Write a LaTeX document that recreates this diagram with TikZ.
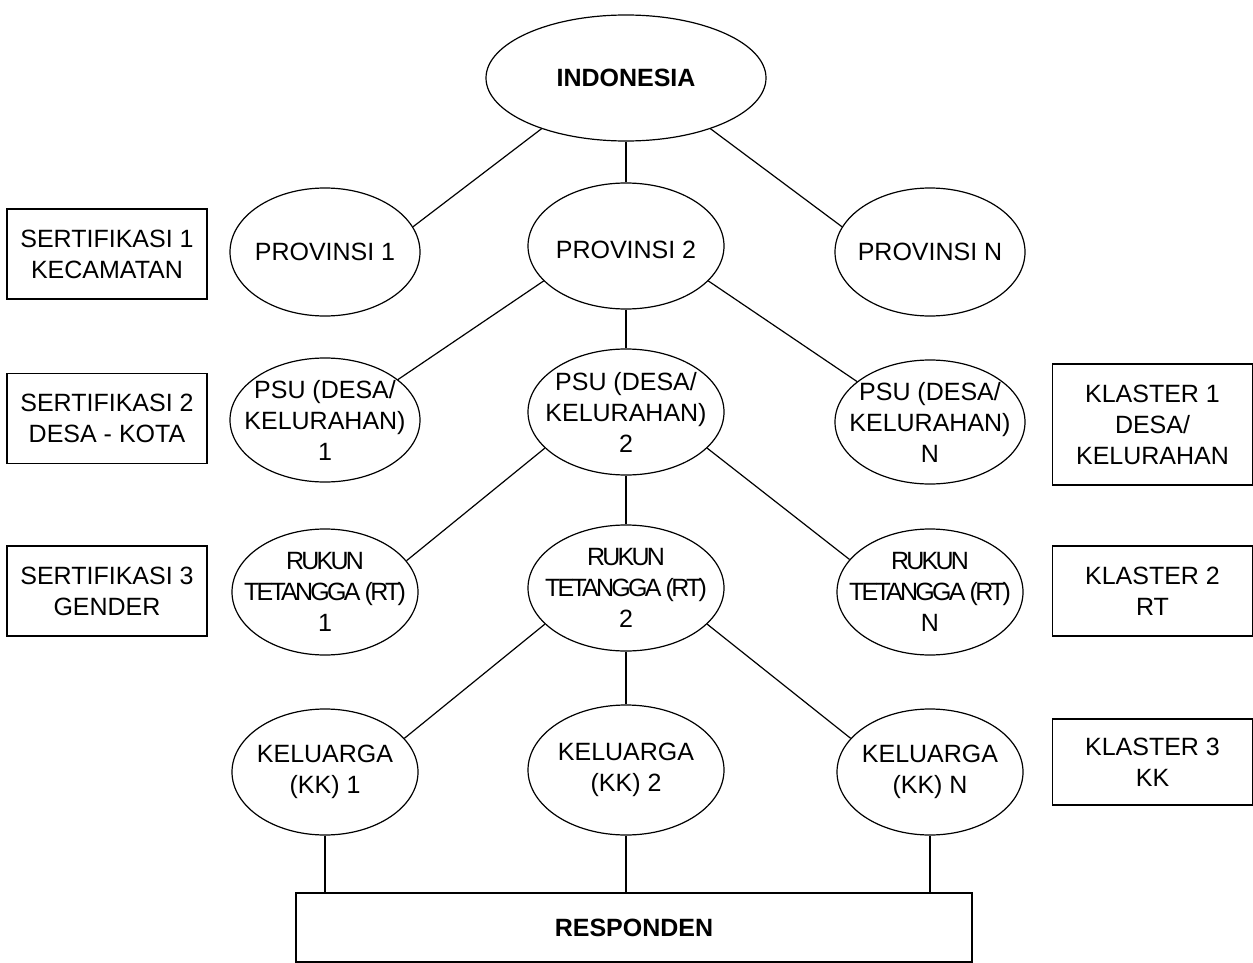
\documentclass[tikz,border=0pt]{standalone}
\usepackage{fontspec}
\setmainfont{Liberation Sans}
\usetikzlibrary{shapes.geometric}
\newcommand{\diagfont}{\fontsize{12.5}{15.5}\selectfont}
\newcommand{\tight}{\addfontfeature{LetterSpace=-11}}

\begin{document}
\begin{tikzpicture}[x=0.5pt,y=-0.5pt,line width=0.6pt,font=\diagfont,
  oval/.style={ellipse,draw,minimum width=95pt,minimum height=64pt,inner sep=0pt},
  sidebox/.style={rectangle,draw,minimum width=100pt,minimum height=45pt,align=center,inner sep=0pt},
  every label/.style={align=center,inner sep=0pt,font=\diagfont}]
\useasboundingbox (0,0) rectangle (1253,963);
\node[oval,minimum width=140pt,minimum height=63pt,font=\diagfont\bfseries] (indo) at (626,78) {INDONESIA};
\node[oval,label={center:PROVINSI 1}] (prov1) at (325,252) {};
\node[oval,minimum width=98pt,minimum height=63pt,label={[yshift=-2pt]center:PROVINSI 2}] (prov2) at (626,246) {};
\node[oval,label={center:PROVINSI N}] (provn) at (930,252) {};
\node[oval,minimum height=62pt,label={center:PSU (DESA/\\KELURAHAN)\\1}] (psu1) at (325,420) {};
\node[oval,minimum width=98pt,minimum height=63pt,label={center:PSU (DESA/\\KELURAHAN)\\2}] (psu2) at (626,412) {};
\node[oval,minimum height=62pt,label={center:PSU (DESA/\\KELURAHAN)\\N}] (psun) at (930,422) {};
\node[oval,minimum width=93pt,minimum height=63pt,label={center:{\tight RUKUN}\\{\tight TETANGGA (RT)}\\1}] (rt1) at (325,592) {};
\node[oval,minimum width=98pt,minimum height=63pt,label={center:{\tight RUKUN}\\{\tight TETANGGA (RT)}\\2}] (rt2) at (626,588) {};
\node[oval,minimum width=93pt,minimum height=63pt,label={center:{\tight RUKUN}\\{\tight TETANGGA (RT)}\\N}] (rtn) at (930,592) {};
\node[oval,minimum width=93pt,minimum height=63pt,label={center:KELUARGA\\(KK) 1}] (kk1) at (325,772) {};
\node[oval,minimum width=98pt,minimum height=65pt,label={center:KELUARGA\\(KK) 2}] (kk2) at (626,770) {};
\node[oval,minimum width=93pt,minimum height=63pt,label={center:KELUARGA\\(KK) N}] (kkn) at (930,772) {};
\node[draw,minimum width=338pt,minimum height=34.5pt,font=\diagfont\bfseries] (resp) at (634,927.5) {RESPONDEN};
\node[sidebox] (sert1) at (107,254) {SERTIFIKASI 1\\KECAMATAN};
\node[sidebox] (sert2) at (107,418.5) {SERTIFIKASI 2\\DESA - KOTA};
\node[sidebox] (sert3) at (107,591) {SERTIFIKASI 3\\GENDER};
\node[sidebox,minimum height=60.5pt] (klas1) at (1152.5,424.5) {KLASTER 1\\DESA/\\KELURAHAN};
\node[sidebox] (klas2) at (1152.5,591) {KLASTER 2\\RT};
\node[sidebox,minimum height=43pt] (klas3) at (1152.5,762) {KLASTER 3\\KK};
\draw (indo.211) -- (prov1.16);
\draw (indo) -- (prov2);
\draw (indo.329) -- (provn.164);
\draw (prov2.203) -- (psu1.29);
\draw (prov2) -- (psu2);
\draw (prov2.337) -- (psun.151);
\draw (psu2.204) -- (rt1.21);
\draw (psu2) -- (rt2);
\draw (psu2.336) -- (rtn.158);
\draw (rt2.204) -- (kk1.23);
\draw (rt2) -- (kk2);
\draw (rt2.336) -- (kkn.157);
\draw (kk1.south) -- (kk1.south |- resp.north);
\draw (kk2.south) -- (kk2.south |- resp.north);
\draw (kkn.south) -- (kkn.south |- resp.north);
\end{tikzpicture}
\end{document}
